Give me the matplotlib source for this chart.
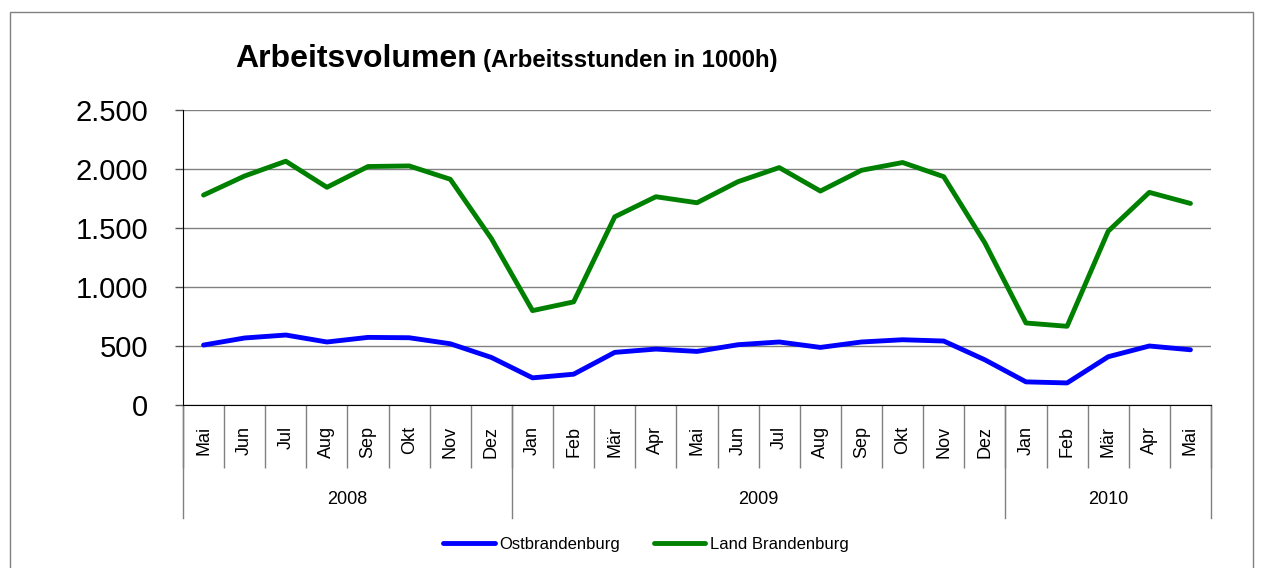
import matplotlib
matplotlib.use("Agg")
import matplotlib.pyplot as plt
from matplotlib.ticker import FuncFormatter, FixedLocator
from matplotlib.patches import Rectangle
import matplotlib.transforms as mtrans

plt.rcParams['font.family'] = ['Liberation Sans', 'DejaVu Sans']

months = ["Mai", "Jun", "Jul", "Aug", "Sep", "Okt", "Nov", "Dez",
          "Jan", "Feb", "Mär", "Apr", "Mai", "Jun", "Jul", "Aug", "Sep", "Okt", "Nov", "Dez",
          "Jan", "Feb", "Mär", "Apr", "Mai"]
years = ["2008", "2009", "2010"]
year_counts = [8, 12, 5]

ostbrandenburg = [508, 568, 593, 534, 573, 570, 519, 403,
                  230, 261, 446, 474, 454, 511, 534, 488, 534, 553, 542, 383,
                  196, 187, 409, 500, 468]
land_brandenburg = [1779, 1941, 2066, 1845, 2021, 2026, 1913, 1410,
                    800, 874, 1595, 1765, 1714, 1893, 2012, 1813, 1989, 2055, 1935, 1374,
                    695, 667, 1473, 1802, 1708]

W, H = 1264, 568
fig = plt.figure(figsize=(W / 100, H / 100), dpi=100)
ax = fig.add_axes([183 / W, 1 - 405 / H, 1028 / W, 295 / H])

x = list(range(len(months)))
l1, = ax.plot(x, ostbrandenburg, color="#0000FF", lw=3.5, solid_capstyle="round", label="Ostbrandenburg", clip_on=False)
l2, = ax.plot(x, land_brandenburg, color="#008000", lw=3.5, solid_capstyle="round", label="Land Brandenburg", clip_on=False)

ax.set_xlim(-0.5, len(months) - 0.5)
ax.set_ylim(0, 2500)
ax.set_yticks(range(0, 2501, 500))
ax.yaxis.set_major_formatter(FuncFormatter(lambda v, p: f"{int(v):,}".replace(",", ".")))
ax.grid(axis="y", color="#808080", lw=1)
ax.set_axisbelow(True)
for s in ["top", "right"]:
    ax.spines[s].set_visible(False)
ax.spines["left"].set_color("black")
ax.spines["bottom"].set_color("black")
ax.tick_params(axis="y", direction="out", length=6, width=1, color="#555555", pad=19, labelsize=21)

ax.set_xticks(x)
ax.set_xticklabels(months, rotation=90, fontsize=13)
ax.tick_params(axis="x", which="major", length=0, pad=15)
ax.xaxis.set_minor_locator(FixedLocator([i - 0.5 for i in range(len(months) + 1)]))
ax.tick_params(axis="x", which="minor", direction="out", length=45, width=1, color="#808080")

# year grouping
trans = mtrans.blended_transform_factory(ax.transData, ax.transAxes)
bounds = [-0.5]
for c in year_counts:
    bounds.append(bounds[-1] + c)
for b in bounds:
    ax.plot([b, b], [0, -0.383], transform=trans, color="#808080", lw=1, clip_on=False)
for i, yl in enumerate(years):
    ax.text((bounds[i] + bounds[i + 1]) / 2, -0.322, yl, transform=trans,
            ha="center", va="center", fontsize=13)

# titles
fig.text(235 / W, 1 - 67 / H, "Arbeitsvolumen", fontsize=23, fontweight="bold", va="baseline")
fig.text(483 / W, 1 - 67 / H, "(Arbeitsstunden in 1000h)", fontsize=17.3, fontweight="bold", va="baseline")

fig.legend(handles=[l1, l2], loc="center", bbox_to_anchor=(646 / W, 1 - 544 / H), ncol=2,
           frameon=False, fontsize=12, handlelength=3.1, handletextpad=0.3, columnspacing=2.0)

fig.patches.append(Rectangle((10 / W, -0.01), (1253 - 10) / W, 1 - 12 / H + 0.01,
                             transform=fig.transFigure, fill=False, edgecolor="#808080", lw=1))

fig.savefig("out.png", dpi=100)
